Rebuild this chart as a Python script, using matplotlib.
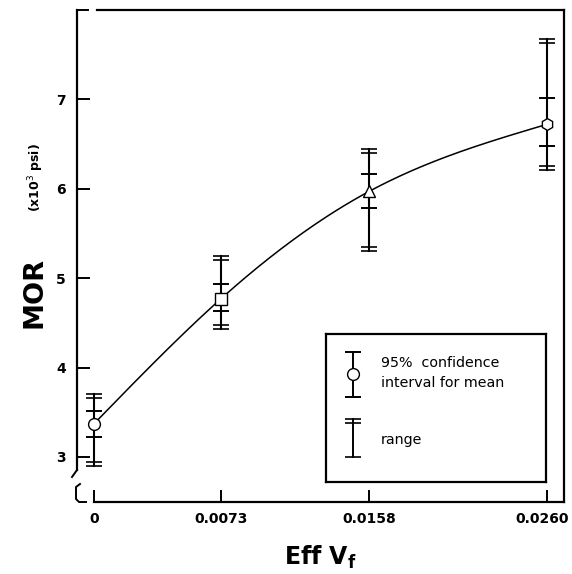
"""
MOR vs effective fibre volume fraction, with 95% CI and range bars.
"""
import numpy as np
import matplotlib
matplotlib.use("Agg")
import matplotlib.pyplot as plt
import matplotlib.transforms as mtransforms
from matplotlib.path import Path

# ── Data ───────────────────────────────────────────────────
eff_vf   = [0.0, 0.0073, 0.0158, 0.0260]
mor_mean = [3.37, 4.77, 5.97, 6.72]
ci_lo    = [3.22, 4.63, 5.79, 6.48]
ci_hi    = [3.51, 4.93, 6.16, 7.01]
range_lo = [2.90, 4.43, 5.30, 6.21]
range_hi = [3.70, 5.25, 6.45, 7.67]
markers  = ["o", "s", "^", "h"]

x_ticks      = [0.0, 0.0073, 0.0158, 0.0260]
x_ticklabels = ["0", "0.0073", "0.0158", "0.0260"]
y_ticks      = [3, 4, 5, 6, 7]

X_LO, X_HI = -0.00097, 0.0270
Y_LO, Y_HI = 2.496, 8.0


def _natural_spline(x, y, xs):
    """Natural cubic spline through (x, y) evaluated at xs."""
    x = np.asarray(x, float)
    y = np.asarray(y, float)
    n = len(x)
    h = np.diff(x)
    A = np.zeros((n, n))
    r = np.zeros(n)
    A[0, 0] = A[-1, -1] = 1.0
    for i in range(1, n - 1):
        A[i, i - 1] = h[i - 1]
        A[i, i] = 2 * (h[i - 1] + h[i])
        A[i, i + 1] = h[i]
        r[i] = 3 * ((y[i + 1] - y[i]) / h[i] - (y[i] - y[i - 1]) / h[i - 1])
    c = np.linalg.solve(A, r)
    b = (y[1:] - y[:-1]) / h - h * (2 * c[:-1] + c[1:]) / 3
    d = (c[1:] - c[:-1]) / (3 * h)
    idx = np.clip(np.searchsorted(x, xs) - 1, 0, n - 2)
    dx = xs - x[idx]
    return y[idx] + b[idx] * dx + c[idx] * dx**2 + d[idx] * dx**3


# double-line caps used for the range bars
CAP_TOP = Path([(-1, 0), (1, 0), (-1, -0.45), (1, -0.45)],
               [Path.MOVETO, Path.LINETO, Path.MOVETO, Path.LINETO])
CAP_BOT = Path([(-1, 0), (1, 0), (-1, 0.45), (1, 0.45)],
               [Path.MOVETO, Path.LINETO, Path.MOVETO, Path.LINETO])

plt.rcParams["font.family"] = ["DejaVu Sans"]

W, H = 572, 574
fig = plt.figure(figsize=(W / 100, H / 100), dpi=100, facecolor="white")

# axes frame in pixels: left 77, right 564, top 10, bottom 502
AX_L, AX_R, AX_T, AX_B = 77, 564, 10, 502
ax = fig.add_axes([AX_L / W, 1 - AX_B / H, (AX_R - AX_L) / W, (AX_B - AX_T) / H])


def _px(xp, yp):
    """pixel position -> axes fraction"""
    return (xp - AX_L) / (AX_R - AX_L), (AX_B - yp) / (AX_B - AX_T)


# ── Curve through the means ────────────────────────────────
xs = np.linspace(eff_vf[0], eff_vf[-1], 200)
ax.plot(xs, _natural_spline(eff_vf, mor_mean, xs), color="black", lw=1.1, zorder=2)

# ── Error bars ─────────────────────────────────────────────
for i, x in enumerate(eff_vf):
    ax.plot([x, x], [range_lo[i], range_hi[i]], color="black", lw=1.5, zorder=1)
    ax.plot([x, x], [ci_lo[i], ci_hi[i]], color="black", lw=0,
            marker="_", markersize=12, markeredgewidth=1.4, zorder=3)
    ax.plot(x, range_hi[i], marker=CAP_TOP, color="black", markersize=12,
            markeredgewidth=1.2, linestyle="none", zorder=3)
    ax.plot(x, range_lo[i], marker=CAP_BOT, color="black", markersize=12,
            markeredgewidth=1.2, linestyle="none", zorder=3)
    ax.plot(x, mor_mean[i], marker=markers[i], markersize=8.5,
            markerfacecolor="white", markeredgecolor="black",
            markeredgewidth=1.0, linestyle="none", zorder=4)

# ── Axes styling ───────────────────────────────────────────
ax.set_xlim(X_LO, X_HI)
ax.set_ylim(Y_LO, Y_HI)
ax.set_xticks(x_ticks)
ax.set_xticklabels(x_ticklabels)
ax.set_yticks(y_ticks)
ax.tick_params(direction="in", length=9, width=1.4, labelsize=10, pad=8)
ax.tick_params(axis="x", pad=7)
for lbl in ax.get_xticklabels() + ax.get_yticklabels():
    lbl.set_fontweight("bold")
# nudge the last x label so it stays inside the picture
last = ax.get_xticklabels()[-1]
last.set_transform(last.get_transform() +
                   mtransforms.ScaledTranslation(-4 / 100, 0, fig.dpi_scale_trans))

for s in ax.spines.values():
    s.set_linewidth(1.6)
ax.spines["left"].set_bounds(2.85, Y_HI)
ax.spines["bottom"].set_bounds(0.0, X_HI)
ax.spines["top"].set_bounds(X_LO + (97 - AX_L) / 17450, X_HI)

# axis-break marks
ln = dict(color="black", lw=1.4, transform=ax.transAxes, clip_on=False)
ax.plot(*zip(_px(AX_L, AX_T), _px(88, AX_T)), **ln)
ax.plot(*zip(_px(AX_L, 470), _px(72, 477)), **ln)
ax.plot(*zip(_px(80, 484), _px(76, 487), _px(76, 499), _px(79, 502), _px(86, 502)), **ln)

# ── Labels ─────────────────────────────────────────────────
fig.text(34 / W, 1 - 292 / H, "MOR", rotation=90, fontsize=19.5,
         fontweight="bold", ha="center", va="center")
fig.text(36 / W, 1 - 178 / H, r"(x10$^3$ psi)", rotation=90, fontsize=9,
         fontweight="bold", ha="center", va="center")
fig.text(320 / W, 1 - 565 / H, r"Eff V$_\mathbf{f}$", fontsize=17,
         fontweight="bold", ha="center", va="baseline")

# ── Legend box ─────────────────────────────────────────────
LG_L, LG_R, LG_T, LG_B = 326, 546, 334, 482
lg = fig.add_axes([LG_L / W, 1 - LG_B / H, (LG_R - LG_L) / W, (LG_B - LG_T) / H])
lg.set_xlim(0, 1)
lg.set_ylim(0, 1)
lg.set_xticks([])
lg.set_yticks([])
for s in lg.spines.values():
    s.set_linewidth(1.6)

lx = 0.123
lg.plot([lx, lx], [0.574, 0.878], color="black", lw=1.4)
lg.plot([lx, lx], [0.574, 0.878], lw=0, color="black", marker="_",
        markersize=12, markeredgewidth=1.4)
lg.plot(lx, 0.73, marker="o", markersize=8.5, markerfacecolor="white",
        markeredgecolor="black", markeredgewidth=1.0)
lg.plot([lx, lx], [0.169, 0.426], color="black", lw=1.4)
lg.plot(lx, 0.426, marker=CAP_TOP, color="black", markersize=12, markeredgewidth=1.2)
lg.plot(lx, 0.169, marker="_", color="black", markersize=12, markeredgewidth=1.2)

tkw = dict(fontsize=10.3, ha="left", va="center")
lg.text(0.25, 0.804, "95%  confidence", **tkw)
lg.text(0.25, 0.669, "interval for mean", **tkw)
lg.text(0.25, 0.284, "range", **tkw)

fig.savefig("out.png", dpi=100, facecolor="white")
plt.close(fig)
